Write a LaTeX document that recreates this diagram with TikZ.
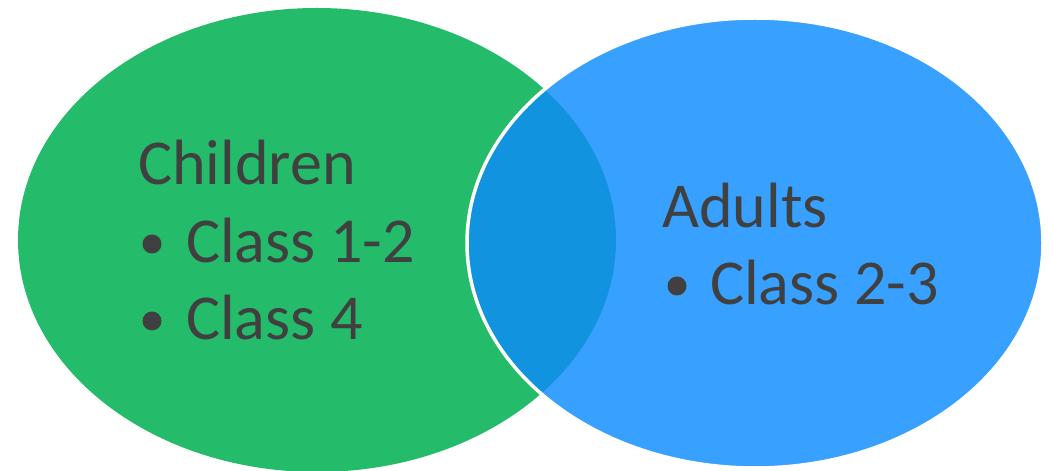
\documentclass[tikz,border=0pt]{standalone}
\usepackage{fontspec}
\setmainfont{Carlito}
\definecolor{cgreen}{HTML}{24BB6A}
\definecolor{cblue}{HTML}{38A1FF}
\definecolor{cdark}{HTML}{1193E0}
\definecolor{ctext}{HTML}{404040}
\begin{document}
\begin{tikzpicture}[x=1bp,y=-1bp,
  txt/.style={anchor=base west,inner sep=0pt,text=ctext,font=\fontsize{64bp}{77bp}\selectfont},
  bul/.style={circle,fill=ctext,inner sep=0pt,minimum size=19bp}]
\useasboundingbox (0,0) rectangle (1053,471);
\fill[cgreen] (317,240) ellipse [x radius=299, y radius=232];
\fill[cblue] (755,243) ellipse [x radius=288, y radius=225];
\begin{scope}
  \clip (317,240) ellipse [x radius=299, y radius=232];
  \fill[cdark] (755,243) ellipse [x radius=288, y radius=225];
\end{scope}
\draw[white,line width=3.5bp] (755,243) ellipse [x radius=288, y radius=225];
\node[txt] (t1) at (138,185) {Children};
\node[bul] (b1) at (152,244) {};
\node[txt] (t2) at (186,263) {Class 1-2};
\node[bul] (b2) at (152,321) {};
\node[txt] (t3) at (186,340) {Class 4};
\node[txt] (t4) at (662,228) {Adults};
\node[bul] (b3) at (677,286) {};
\node[txt] (t5) at (710,305) {Class 2-3};
\end{tikzpicture}
\end{document}
